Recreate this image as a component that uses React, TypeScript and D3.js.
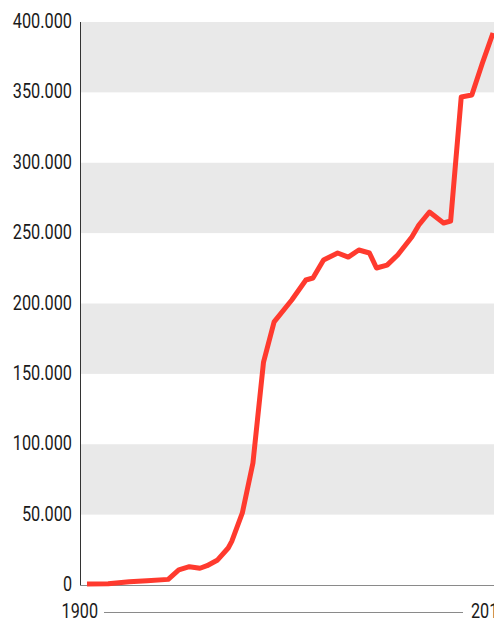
import React, { useEffect, useRef } from 'react';
import * as d3 from 'd3';

// series (year, value)
const years = [
  1900, 1906, 1912, 1917, 1923, 1926, 1929, 1932, 1934, 1937, 1940, 1941, 1944, 1947,
  1950, 1953, 1958, 1962, 1964, 1967, 1971, 1974, 1977, 1980, 1982, 1985, 1988, 1992,
  1994, 1997, 2001, 2003, 2006, 2009, 2012, 2015,
];
const values = [
  700, 900, 2300, 3000, 4000, 10700, 13000, 11900, 13700, 17800, 26300, 31000, 51200, 86700,
  158400, 186900, 202500, 216700, 218100, 230900, 235900, 233000, 238000, 235900, 225200, 227300, 234500, 247300,
  255800, 265000, 257200, 258600, 346700, 348100, 370900, 392200,
];
const yTicks = [0, 50000, 100000, 150000, 200000, 250000, 300000, 350000, 400000];
const startLabel = '1900';
const endLabel = '2015';

const W = 494;
const H = 619;
const FONT = "Roboto, 'Liberation Sans', sans-serif";

// condensed look: squeeze each label to a narrow width
const narrowWidth = (s: string) =>
  s.split('').reduce((acc, c) => acc + (c === '.' ? 4.6 : 9.1), 0);

export default function App() {
  const svgRef = useRef<SVGSVGElement>(null);

  useEffect(() => {
    if (!svgRef.current) return;
    const svg = d3.select(svgRef.current);
    svg.selectAll('*').remove();

    const left = 80;
    const x = d3.scaleLinear().domain([1900, 2015]).range([87, 493]);
    const y = d3.scaleLinear().domain([0, 400000]).range([585, 22]);

    // alternating grey bands
    const bands = yTicks.filter((t, i) => i % 2 === 1);
    svg.selectAll('.band')
      .data(bands)
      .enter()
      .append('rect')
      .attr('x', left + 1)
      .attr('y', d => y(d + 50000))
      .attr('width', W - left)
      .attr('height', d => y(d) - y(d + 50000))
      .attr('fill', '#e9e9e9');

    const label = (txt: string, tx: number, ty: number, anchor: string) => {
      const w = narrowWidth(txt);
      const x0 = anchor === 'end' ? tx - w : tx;
      svg.append('text')
        .attr('x', x0)
        .attr('y', ty)
        .attr('font-family', FONT)
        .attr('font-size', 20)
        .attr('fill', '#1a1a1a')
        .attr('textLength', w)
        .attr('lengthAdjust', 'spacingAndGlyphs')
        .text(txt);
    };

    // y labels
    const fmt = (v: number) => d3.format(',')(v).replace(/,/g, '.');
    yTicks.forEach(t => label(fmt(t), 72, y(t) + 6, 'end'));

    // axes
    svg.append('line')
      .attr('x1', left).attr('x2', W)
      .attr('y1', y(0) + 0.5).attr('y2', y(0) + 0.5)
      .attr('stroke', '#8a8a8a').attr('stroke-width', 1);
    svg.append('line')
      .attr('x1', left + 0.5).attr('x2', left + 0.5)
      .attr('y1', y(400000)).attr('y2', y(0))
      .attr('stroke', '#333').attr('stroke-width', 1);

    // line
    const data = years.map((yr, i) => ({ yr, v: values[i] }));
    const line = d3.line<{ yr: number; v: number }>()
      .x(d => x(d.yr))
      .y(d => y(d.v));
    svg.append('path')
      .datum(data)
      .attr('d', line)
      .attr('fill', 'none')
      .attr('stroke', '#ff3a2e')
      .attr('stroke-width', 5)
      .attr('stroke-linejoin', 'round');

    // time span marker at bottom
    label(startLabel, 98, 618, 'end');
    svg.append('line')
      .attr('x1', 104).attr('x2', 463)
      .attr('y1', 612.5).attr('y2', 612.5)
      .attr('stroke', '#8a8a8a').attr('stroke-width', 1);
    label(endLabel, 471, 618, 'start');
  }, []);

  return (
    <>
      <style>{`body{margin:0;overflow:hidden}`}</style>
      <svg ref={svgRef} width={W} height={H} style={{ display: 'block' }} />
    </>
  );
}
